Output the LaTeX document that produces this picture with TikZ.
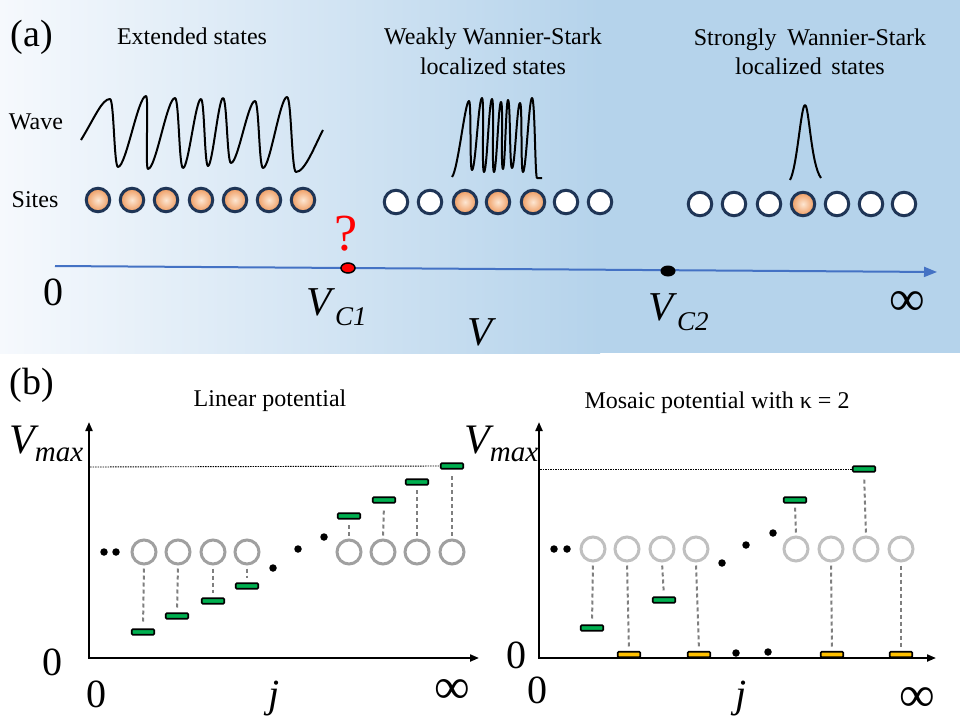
\documentclass[tikz,border=0pt]{standalone}
\usepackage{fontspec}
\setmainfont{Liberation Serif}
\usetikzlibrary{arrows.meta,shapes.geometric}
\definecolor{bgL}{HTML}{F6F9FD}
\definecolor{bgR}{HTML}{B5D3EB}
\definecolor{axblue}{HTML}{4472C4}
\definecolor{navy}{HTML}{1F3556}
\definecolor{orL}{HTML}{FDE6D2}
\definecolor{orD}{HTML}{EE9A5E}
\definecolor{gbar}{HTML}{00B050}
\definecolor{ybar}{HTML}{FFC000}
\definecolor{gcirc}{HTML}{A0A0A0}
\definecolor{lcirc}{HTML}{C0C0C0}
\definecolor{dashg}{HTML}{7F7F7F}
\tikzset{
  fs/.style={font=\fontsize{#1}{#1}\selectfont},
  lbl/.style={anchor=base, inner sep=0pt, fs=24},
  site/.style={circle, draw=navy, line width=3pt, minimum size=23.5pt, inner sep=0pt},
  wsite/.style={site, fill=white},
  osite/.style={site, shade, inner color=orL, outer color=orD},
  pcirc/.style={circle, draw=#1, line width=3pt, minimum size=24pt, inner sep=0pt},
  bar/.style={rectangle, draw=black, line width=1.6pt, rounded corners=1pt, minimum width=22.5pt, minimum height=5.5pt, inner sep=0pt, fill=#1},
  dline/.style={draw=dashg, line width=2pt, dash pattern=on 4pt off 3pt, shorten <=3pt, shorten >=4pt},
  blob/.style={circle, fill=black, inner sep=0pt, minimum size=7.5pt},
  baxis/.style={draw=black, line width=2pt, -{Triangle[length=9pt,width=7pt]}},
  vlevel/.style={draw=black, line width=0.9pt, dash pattern=on 1.5pt off 1pt},
  wave/.style={draw=black, line width=2pt, line join=round},
}
\newcommand{\vmaxlabel}{\textit{V}\kern-4pt\raisebox{-8pt}{\fontsize{29}{29}\selectfont\textit{max}}}
\begin{document}
\begin{tikzpicture}[x=1pt,y=-1pt]
\useasboundingbox (0,0) rectangle (960,720);
% ---------------- panel (a) background
\shade[left color=bgL, right color=bgR] (0,0) rectangle (600,353);
\fill[bgR] (600,0) rectangle (960,353);

% titles
\node[lbl, fs=38] (la) at (32,46) {(a)};
\node[lbl] (t1) at (192,44) {Extended states};
\node[lbl] (t2a) at (493,44) {Weakly Wannier-Stark};
\node[lbl] (t2b) at (493,74) {localized states};
\node[lbl] (t3a) at (810,45) {Strongly\hspace{0.45em}Wannier-Stark};
\node[lbl] (t3b) at (810,74) {localized\hspace{0.4em}states};
\node[lbl] (wv) at (36,129) {Wave};
\node[lbl] (st) at (35,207) {Sites};

% waves
\draw[wave] (81,140) .. controls (95,117) and (102,99) .. (110,99)
  .. controls (114,99) and (114,167) .. (118,167)
  .. controls (126,167) and (138,96) .. (146,96)
  .. controls (149,96) and (145,169) .. (148,169)
  .. controls (156,169) and (167,98) .. (175,98)
  .. controls (179,98) and (179,168) .. (183,168)
  .. controls (188.5,168) and (195.5,99) .. (201,99)
  .. controls (204.5,99) and (204.5,166) .. (208,166)
  .. controls (212.5,166) and (218.5,98) .. (223,98)
  .. controls (227,98) and (227,163) .. (231,163)
  .. controls (238,163) and (248,101) .. (255,101)
  .. controls (259,101) and (259,168) .. (263,168)
  .. controls (270,168) and (280,97) .. (287,97)
  .. controls (291.5,97) and (291.5,172) .. (296,172)
  .. controls (305,172) and (315,145) .. (323,130);
\draw[wave] (452,177) .. controls (458,170) and (465,101) .. (469,101)
  .. controls (471.5,101) and (469.5,170) .. (472,170)
  .. controls (475.5,170) and (478.5,98) .. (482,98)
  .. controls (484.5,98) and (481.5,172) .. (484,172)
  .. controls (487,172) and (489,99) .. (492,99)
  .. controls (494.5,99) and (491.5,172) .. (494,172)
  .. controls (496.5,172) and (498.5,102) .. (501,102)
  .. controls (503.5,102) and (500.5,169) .. (503,169)
  .. controls (505,169) and (506,100) .. (508,100)
  .. controls (510.5,100) and (509.5,168) .. (512,168)
  .. controls (515,168) and (517,103) .. (520,103)
  .. controls (522.5,103) and (520.5,172) .. (523,172)
  .. controls (526,172) and (529,98) .. (532,98)
  .. controls (535,98) and (535,178) .. (537,178) -- (542,178);
\draw[wave] (790,180) .. controls (797,168) and (801,105) .. (805,105)
  .. controls (809,105) and (811,165) .. (821,178);

% sites
\foreach \x [count=\i] in {98,132,166,201,235,269,303}
  \node[osite] (s1\i) at (\x,200) {};
\foreach \x/\s [count=\i] in {396/wsite,430/wsite,465/osite,498/osite,533/osite,566/wsite,600/wsite}
  \node[\s] (s2\i) at (\x,202) {};
\foreach \x/\s [count=\i] in {700/wsite,734/wsite,769/wsite,803/osite,837/wsite,871/wsite,904/wsite}
  \node[\s] (s3\i) at (\x,204) {};

% V axis
\coordinate (ao) at (55,266);
\coordinate (ae) at (937,272);
\draw[axblue, line width=2pt, -{Triangle[length=13pt,width=10pt]}] (ao) -- (ae);
\node[ellipse, draw=black, line width=1.5pt, fill=red, minimum width=14pt, minimum height=10pt, inner sep=0pt] (vc1pt) at (348,268) {};
\node[ellipse, fill=black, minimum width=15pt, minimum height=11pt, inner sep=0pt] (vc2pt) at (668,271) {};
\node[lbl, fs=52, text=red] (q) at (346,250) {?};
\node[lbl, fs=40] (z0) at (53,305) {0};
\node[lbl, fs=41, anchor=base west] (vc1) at (306,315) {\textit{V}\raisebox{-10pt}{\fontsize{27}{27}\selectfont\textit{C1}}};
\node[lbl, fs=41, anchor=base west] (vc2) at (648,320) {\textit{V}\raisebox{-10pt}{\fontsize{27}{27}\selectfont\textit{C2}}};
\node[lbl, fs=41] (vv) at (482,345) {\textit{V}};
\node[lbl, fs=50] (inf) at (907,315) {∞};

% ---------------- panel (b)
\node[lbl, fs=38] (lb) at (32,394) {(b)};
\node[lbl] (lin) at (270,406) {Linear potential};
\node[lbl] (mos) at (717,408) {Mosaic potential with κ = 2};

% left plot
\coordinate (o1) at (89,658);
\coordinate (y1) at (89,422);
\coordinate (x1) at (479,658);
\coordinate (o1x) at (88,658);
\coordinate (d1s) at (90,467);
\draw[baxis] (o1) -- (y1);
\draw[baxis] (o1x) -- (x1);
\node[lbl, fs=42, anchor=base west] (vm1) at (9,453) {\vmaxlabel};
\node[lbl, fs=40] (l0y) at (52,675) {0};
\node[lbl, fs=40] (l0x) at (96,707) {0};
\node[lbl, fs=40] (lj) at (274,707) {\textit{j}};
\node[lbl, fs=50] (linf) at (452,703) {∞};

\foreach \x [count=\i] in {144,178,213,247,349,383,417,452}
  \node[pcirc=gcirc] (c\i) at (\x,552) {};
\foreach \x/\y [count=\i] in {143/632,177/616,213/601,247/586,349/516,384/500,417/482,452/466}
  \node[bar=gbar] (b\i) at (\x,\y) {};
\draw[vlevel] (d1s) -- (b8.west);
\foreach \i in {1,2,3,4}
  \draw[dline] (c\i.south) -- (b\i.north);
\foreach \i in {5,6,7,8}
  \draw[dline] (c\i.north) -- (b\i.south);
\foreach \x/\y [count=\i] in {104/552,116/552,273/568,298/549,324/537}
  \node[blob] (ld\i) at (\x,\y) {};

% right plot
\coordinate (o2) at (539,658);
\coordinate (y2) at (539,422);
\coordinate (x2) at (936,658);
\coordinate (o2x) at (538,658);
\coordinate (d2s) at (540,469);
\foreach \x [count=\i] in {593,627,662,696,796,831,866,901}
  \node[pcirc=lcirc] (r\i) at (\x,549) {};
\node[bar=gbar] (rb1) at (592,628) {};
\node[bar=ybar] (rb2) at (629,654.5) {};
\node[bar=gbar] (rb3) at (664,600) {};
\node[bar=ybar] (rb4) at (699,654.5) {};
\node[bar=gbar] (rb5) at (795,500) {};
\node[bar=ybar] (rb6) at (832,654.5) {};
\node[bar=gbar] (rb7) at (864,469) {};
\node[bar=ybar] (rb8) at (901,654.5) {};
\draw[vlevel] (d2s) -- (rb7.west);
\draw[baxis] (o2) -- (y2);
\draw[baxis] (o2x) -- (x2);
\foreach \i in {1,2,3,4,6,8}
  \draw[dline] (r\i.south) -- (rb\i.north);
\foreach \i in {5,7}
  \draw[dline] (r\i.north) -- (rb\i.south);
\foreach \x/\y [count=\i] in {554/549,567/549,722/563,746/545,773/533,736/653,768/652}
  \node[blob] (rd\i) at (\x,\y) {};
\node[lbl, fs=42, anchor=base west] (vm2) at (464,453) {\vmaxlabel};
\node[lbl, fs=40] (r0y) at (516,668) {0};
\node[lbl, fs=40] (r0x) at (537,703) {0};
\node[lbl, fs=40] (rj) at (741,707) {\textit{j}};
\node[lbl, fs=50] (rinf) at (917,711) {∞};
\end{tikzpicture}
\end{document}
